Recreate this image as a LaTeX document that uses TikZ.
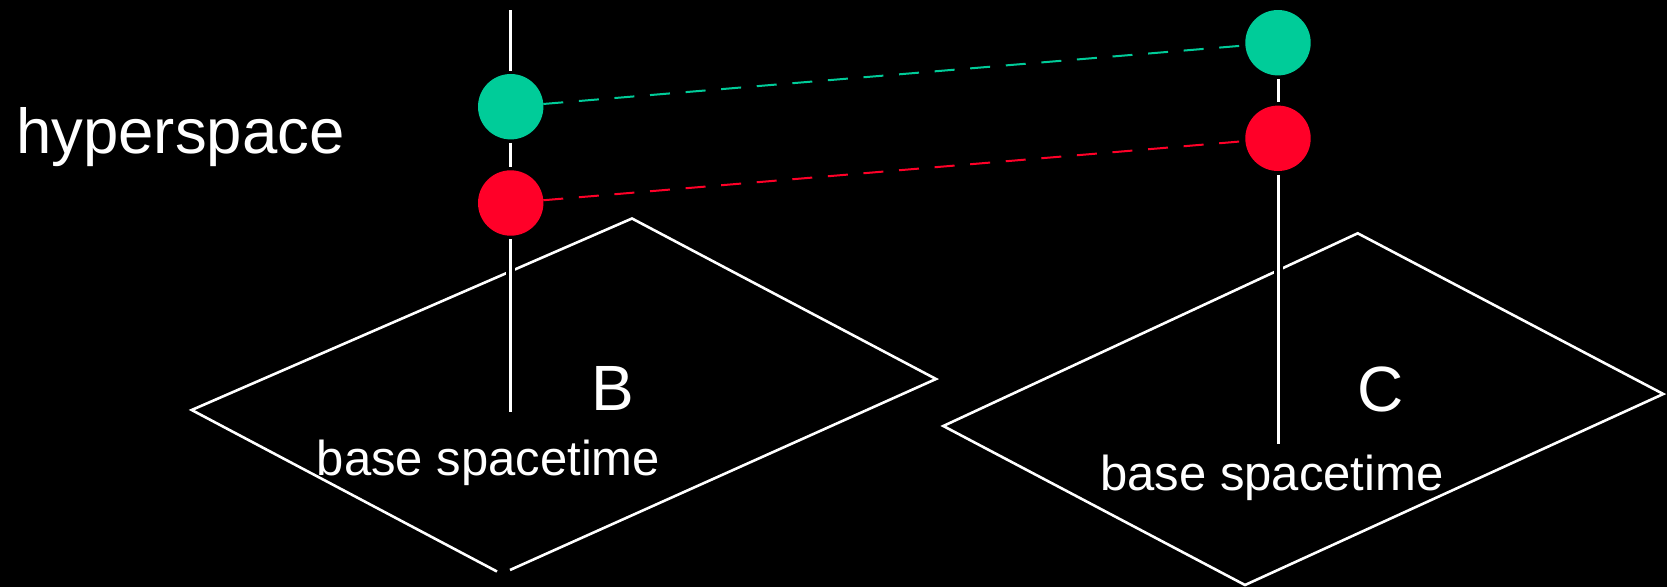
\documentclass[tikz,border=0pt]{standalone}
\usepackage{fontspec}
\setmainfont{Liberation Sans}
\definecolor{hypgreen}{RGB}{0,204,153}
\definecolor{hypred}{RGB}{255,0,40}
\begin{document}
\begin{tikzpicture}[x=1pt,y=-1pt,
  edge/.style={draw=white,line width=2.6pt,line join=miter},
  pole/.style={draw=white,line width=3pt},
  halo/.style={preaction={draw=black,line width=9pt}},
  ball/.style={circle,minimum size=65.4pt,inner sep=0pt,outer sep=0pt,fill=#1},
  link/.style={draw=#1,line width=2pt,dash pattern=on 20pt off 15.7pt},
  lbl/.style={text=white,inner sep=0pt,anchor=base}]
% background and page frame
\fill[black] (0,0) rectangle (1667,587);
\useasboundingbox (0,0) rectangle (1667,587);

% base spacetime sheets
\coordinate (BL) at (191.7,410);
\coordinate (BT) at (632,218.5);
\coordinate (BR) at (936,379);
\draw[edge] (497,571.5) -- (BL) -- (BT) -- (BR) -- (510,570);
\coordinate (CL) at (943.3,426);
\coordinate (CT) at (1357.7,233.3);
\coordinate (CR) at (1663.3,394);
\coordinate (CB) at (1245,585);
\draw[edge] (CL) -- (CT) -- (CR) -- (CB) -- cycle;

% points in hyperspace
\node[ball=hypgreen] (gB) at (510.7,106.7) {};
\node[ball=hypred]   (rB) at (510.7,203)   {};
\node[ball=hypgreen] (gC) at (1278,42.7)   {};
\node[ball=hypred]   (rC) at (1278,138.3)  {};

% fibre above each base point
\coordinate (topB) at (510.7,10);
\coordinate (footB) at (510.7,412);
\coordinate (footC) at (1278,444);
\draw[pole,shorten >=3.5pt] (topB) -- (gB);
\draw[pole,shorten >=3.5pt,shorten <=3.5pt] (gB) -- (rB);
\draw[pole,halo,shorten <=3.5pt] (rB) -- (footB);
\draw[pole,shorten >=3.5pt,shorten <=3.5pt] (gC) -- (rC);
\draw[pole,halo,shorten <=3.5pt] (rC) -- (footC);

% identification across hyperspace
\draw[link=hypgreen] (gB) -- (gC);
\draw[link=hypred] (rB) -- (rC);

% labels
\node[lbl,anchor=base west,font=\fontsize{63.5}{70}\selectfont] (hyp) at (16,153) {hyperspace};
\node[lbl,font=\fontsize{64}{70}\selectfont] (labB) at (612.5,410) {B};
\node[lbl,font=\fontsize{64}{70}\selectfont] (labC) at (1381,411.7) {C};
\node[lbl,font=\fontsize{49}{55}\selectfont] (baseB) at (488.5,475) {base spacetime};
\node[lbl,font=\fontsize{49}{55}\selectfont] (baseC) at (1272,490) {base spacetime};
\end{tikzpicture}
\end{document}
